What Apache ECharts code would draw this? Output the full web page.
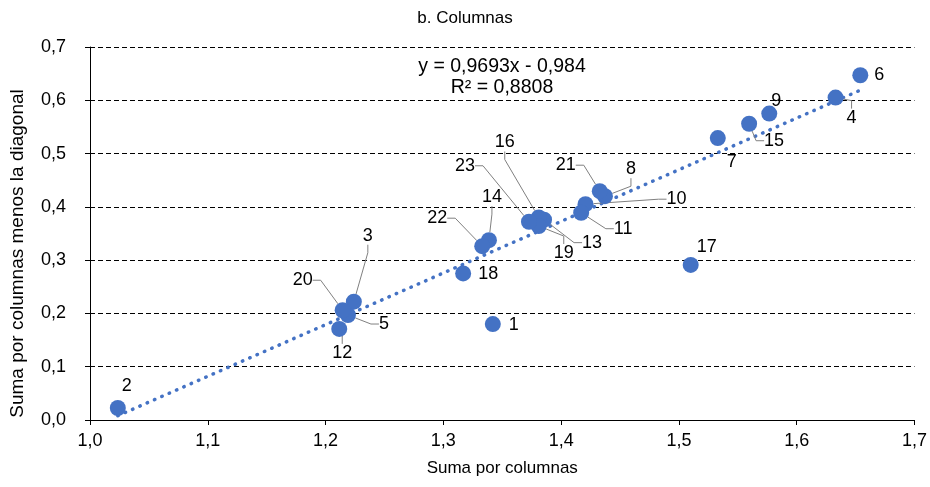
<!DOCTYPE html>
<html>
<head>
<meta charset="utf-8">
<script src="https://cdn.jsdelivr.net/npm/echarts@6/dist/echarts.min.js"></script>
<style>
html,body{margin:0;padding:0;background:#fff;}
#main{width:930px;height:487px;}
</style>
</head>
<body>
<div id="main"></div>
<script>
// ---- data ----
var pointLabels = ['1','2','3','4','5','6','7','8','9','10','11','12','13','14','15','16','17','18','19','20','21','22','23'];
var xValues = [1.342,1.0236,1.224,1.633,1.219,1.654,1.533,1.4372,1.5767,1.4207,1.417,1.2116,1.3855,1.3387,1.5596,1.381,1.510,1.3168,1.381,1.2145,1.4328,1.3330,1.3727];
var yValues = [0.180,0.0225,0.222,0.605,0.197,0.647,0.529,0.420,0.575,0.405,0.389,0.171,0.376,0.3375,0.556,0.380,0.291,0.275,0.364,0.206,0.4294,0.3262,0.372];
var trendX = [1.0236, 1.654];
var trendY = [0.008, 0.619];
var xTicks = [1.0,1.1,1.2,1.3,1.4,1.5,1.6,1.7];
var yTicks = [0.0,0.1,0.2,0.3,0.4,0.5,0.6,0.7];
var equationText = 'y = 0,9693x - 0,984';
var r2Text = 'R\u00b2 = 0,8808';
var titleText = 'b. Columnas';
var xName = 'Suma por columnas';
var yName = 'Suma por columnas menos la diagonal';

// ---- label placement (offset of label centre from point, px) ----
var labelOffsets = {
  '1':[21,1],'2':[9,-22],'3':[14,-66],'4':[16,20],'5':[36,9],'6':[19,0],'7':[14,24],
  '8':[26,-27],'9':[7,-13],'10':[91,-5],'11':[42,16],'12':[3,24],'13':[48,23],'14':[3,-43],
  '15':[25,17],'16':[-34,-75],'17':[16,-18],'18':[25,1],'19':[25,27],'20':[-40,-30],
  '21':[-34,-26],'22':[-45,-28],'23':[-64,-56]
};
var withLeader = {'3':1,'4':1,'5':1,'8':1,'10':1,'11':1,'12':1,'13':1,'14':1,'15':1,'16':1,'19':1,'20':1,'21':1,'22':1,'23':1};

var scatterData = pointLabels.map(function(n,i){
  return {value:[xValues[i], yValues[i]], name:n, labelLine:{show: !!withLeader[n]}};
});
var trendData = trendX.map(function(x,i){ return [x, trendY[i]]; });

var fmt = function(v){ return (Math.round(v*10)/10).toFixed(1).replace('.',','); };
var FONT = 'Liberation Sans, Arial, sans-serif';
var FS = 18;

var chart = echarts.init(document.getElementById('main'));
chart.setOption({
  animation:false,
  backgroundColor:'#fff',
  title:{text:titleText,left:'center',top:5,textStyle:{fontFamily:FONT,fontSize:17,fontWeight:'normal',color:'#000'}},
  grid:{left:85,right:15,top:47,bottom:67,containLabel:false},
  xAxis:{
    type:'value',min:xTicks[0],max:xTicks[xTicks.length-1],interval:0.1,
    name:xName,nameLocation:'middle',nameGap:40,
    nameTextStyle:{fontFamily:FONT,fontSize:17,color:'#000'},
    axisLine:{show:true,onZero:false,lineStyle:{color:'#000',width:1}},
    axisTick:{show:true,length:5,lineStyle:{color:'#000'}},
    axisLabel:{formatter:fmt,fontFamily:FONT,fontSize:FS,color:'#000',margin:12},
    splitLine:{show:false}
  },
  yAxis:{
    type:'value',min:yTicks[0],max:yTicks[yTicks.length-1],interval:0.1,
    name:yName,nameLocation:'middle',nameGap:63,nameRotate:90,
    nameTextStyle:{fontFamily:FONT,fontSize:19,color:'#000',padding:[0,40,0,0]},
    axisLine:{show:true,lineStyle:{color:'#000',width:1}},
    axisTick:{show:true,length:5,lineStyle:{color:'#000'}},
    axisLabel:{formatter:fmt,fontFamily:FONT,fontSize:FS,color:'#000',margin:24},
    splitLine:{show:true,lineStyle:{color:'#000',width:1,type:[5,3]}}
  },
  graphic:[
    {type:'text',x:502,y:67,style:{text:equationText,fontFamily:FONT,fontSize:19.5,fill:'#000',align:'center',verticalAlign:'middle'}},
    {type:'text',x:502,y:88,style:{text:r2Text,fontFamily:FONT,fontSize:19.5,fill:'#000',align:'center',verticalAlign:'middle'}}
  ],
  series:[
    {
      type:'line',data:trendData,symbol:'none',z:1,silent:true,
      lineStyle:{color:'#4472C4',width:3.5,type:[0.5,7.5],cap:'round'}
    },
    {
      type:'scatter',data:scatterData,symbolSize:16,z:3,
      itemStyle:{color:'#4472C4',opacity:1},
      label:{show:true,formatter:'{b}',position:'inside',fontFamily:FONT,fontSize:FS,color:'#000'},
      labelLine:{show:true,length2:8,lineStyle:{color:'#808080',width:1}},
      labelLayout:function(p){
        var n = pointLabels[p.dataIndex];
        var o = labelOffsets[n] || [0,0];
        return {x:p.rect.x+p.rect.width/2+o[0], y:p.rect.y+p.rect.height/2+o[1], align:'center', verticalAlign:'middle'};
      }
    }
  ]
});
</script>
</body>
</html>
